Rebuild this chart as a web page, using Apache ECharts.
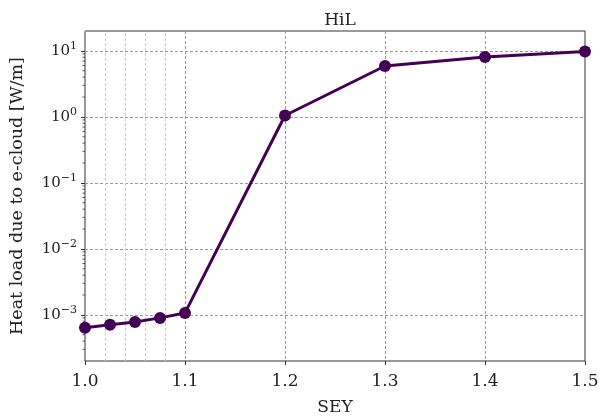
<!DOCTYPE html>
<html>
<head>
<meta charset="utf-8">
<script src="https://cdn.jsdelivr.net/npm/echarts@6/dist/echarts.min.js"></script>
<style>
  html, body { margin: 0; padding: 0; background: #fff; }
  #chart { width: 600px; height: 416px; }
</style>
</head>
<body>
<div id="chart"></div>
<script>
// Secondary electron yield scan and resulting e-cloud heat load
const sey = [1.0, 1.025, 1.05, 1.075, 1.1, 1.2, 1.3, 1.4, 1.5];
const heatLoad = [6.4e-4, 7.1e-4, 7.8e-4, 9.0e-4, 1.07e-3, 1.05, 5.9, 8.1, 9.8];

// Light vertical guide lines between 1.0 and 1.1
const fineGuides = [1.02, 1.04, 1.06, 1.08];

// Log-axis minor tick values (2..9 per decade)
const minorTickValues = [];
[1e-4, 1e-3, 1e-2, 1e-1, 1, 10].forEach(function (d) {
  for (let m = 2; m <= 9; m++) minorTickValues.push(m * d);
});

const yMin = 2e-4, yMax = 20;
const FONT = '"DejaVu Serif", serif';
const sup = { '-4': '−4', '-3': '−3', '-2': '−2', '-1': '−1', '0': '0', '1': '1' };

const chart = echarts.init(document.getElementById('chart'));
chart.setOption({
  animation: false,
  title: {
    text: 'HiL', left: 335, top: 7, textAlign: 'center',
    textStyle: { fontFamily: FONT, fontSize: 17, fontWeight: 'normal', color: '#222' }
  },
  grid: {
    left: 85, right: 15, top: 31, bottom: 55,
    outerBoundsMode: 'none', containLabel: false,
    show: true, borderColor: '#333', borderWidth: 1
  },
  xAxis: {
    type: 'value', min: 1.0, max: 1.5, interval: 0.1,
    name: 'SEY', nameLocation: 'middle', nameGap: 38,
    nameTextStyle: { fontFamily: FONT, fontSize: 17, color: '#222' },
    axisLine: { show: false },
    axisTick: { show: true, length: 4, inside: false, lineStyle: { color: '#333' } },
    axisLabel: { fontFamily: FONT, fontSize: 17, color: '#222', margin: 12,
      formatter: function (v) { return v.toFixed(1); } },
    splitLine: { show: true, lineStyle: { color: '#999', type: [3, 2], width: 1 } }
  },
  yAxis: {
    type: 'log', logBase: 10, min: yMin, max: yMax,
    name: 'Heat load due to e-cloud [W/m]', nameLocation: 'middle', nameGap: 59,
    nameTextStyle: { fontFamily: FONT, fontSize: 17.5, color: '#222' },
    axisLine: { show: false },
    axisTick: { show: true, length: 4, lineStyle: { color: '#333' } },
    axisLabel: {
      showMinLabel: false, showMaxLabel: false, margin: 8,
      formatter: function (v) {
        const e = Math.round(Math.log10(v));
        return '{b|10}{s|' + sup[String(e)] + '}';
      },
      rich: {
        b: { fontFamily: FONT, fontSize: 15, color: '#222' },
        s: { fontFamily: FONT, fontSize: 11, color: '#222', padding: [0, 0, 9, 0] }
      }
    },
    splitLine: { show: true, lineStyle: { color: '#999', type: [3, 2], width: 1 } }
  },
  series: [
    {
      type: 'line',
      data: sey.map(function (x, i) { return [x, heatLoad[i]]; }),
      symbol: 'circle', symbolSize: 12,
      lineStyle: { color: '#440154', width: 3 },
      itemStyle: { color: '#440154' },
      z: 5,
      markLine: {
        silent: true, symbol: 'none', label: { show: false },
        lineStyle: { color: '#ccc', type: [3, 2], width: 1 },
        data: fineGuides.map(function (x) { return { xAxis: x }; })
      }
    },
    {
      // minor ticks drawn just outside the left spine
      type: 'custom', silent: true, clip: false,
      data: minorTickValues.filter(function (v) { return v > yMin && v < yMax; }),
      encode: { y: 0 },
      renderItem: function (params, api) {
        const p = api.coord([1.0, api.value(0)]);
        return {
          type: 'line',
          shape: { x1: p[0] - 2.5, y1: p[1], x2: p[0], y2: p[1] },
          style: { stroke: '#333', lineWidth: 0.8 }
        };
      }
    }
  ]
});
</script>
</body>
</html>
